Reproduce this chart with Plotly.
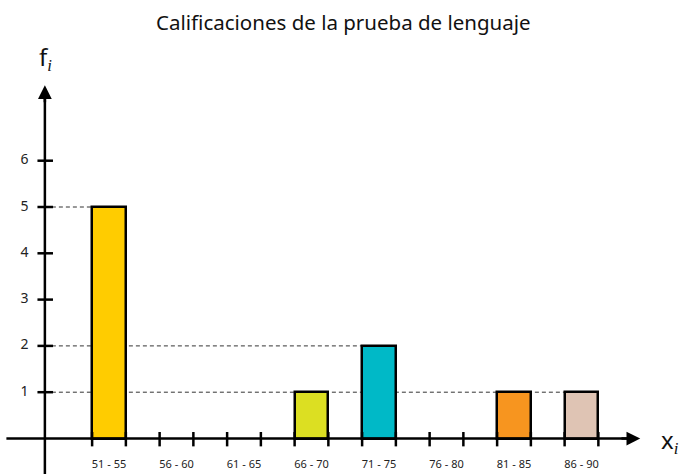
import plotly.graph_objects as go

# Frequency table
categories = ["51 - 55", "56 - 60", "61 - 65", "66 - 70", "71 - 75", "76 - 80", "81 - 85", "86 - 90"]
frequencies = [5, 0, 0, 1, 2, 0, 1, 1]
bar_colors = ["#FFCC00", "#FFFFFF", "#FFFFFF", "#DCDF22", "#00B9C7", "#FFFFFF", "#F7951F", "#DFC4B4"]
y_ticks = [1, 2, 3, 4, 5, 6]
title_text = "Calificaciones de la prueba de lenguaje"

W, H = 684, 474
BAR_W = 0.5
positions = list(range(len(categories)))

# axis placement in data units
AXIS_X = -0.95
X_RANGE = [-109 / 67.5, (W - 109) / 67.5]
Y_RANGE = [-35.5 / 46.3, 438.5 / 46.3]
X_END = 7.87
Y_END = 7.63
Y_BOTTOM = Y_RANGE[0]
X_START = -1.52

fig = go.Figure()

shapes = []
# dashed guides from the vertical axis to the farthest bar of each height
for lvl in sorted(set(v for v in frequencies if v > 0)):
    last = max(i for i, v in zip(positions, frequencies) if v == lvl)
    shapes.append(dict(type="line", xref="x", yref="y", layer="below",
                       x0=AXIS_X, x1=last - BAR_W / 2, y0=lvl, y1=lvl,
                       line=dict(color="#333333", width=1, dash="4px,3px")))

# bars (only non-empty classes)
bx = [p for p, v in zip(positions, frequencies) if v > 0]
by = [v for v in frequencies if v > 0]
bc = [c for c, v in zip(bar_colors, frequencies) if v > 0]
fig.add_trace(go.Bar(x=bx, y=by, width=BAR_W, marker=dict(color=bc, line=dict(color="#000000", width=2.5)),
                     hoverinfo="skip", showlegend=False))

# horizontal axis
shapes.append(dict(type="line", xref="x", yref="y", x0=X_START, x1=X_END - 0.05, y0=0, y1=0,
                   line=dict(color="#000000", width=2.5)))
# vertical axis
shapes.append(dict(type="line", xref="x", yref="y", x0=AXIS_X, x1=AXIS_X, y0=Y_BOTTOM, y1=Y_END - 0.1,
                   line=dict(color="#000000", width=2.5)))

# x-axis ticks at the edges of each class
for p in positions:
    for e in (p - BAR_W / 2, p + BAR_W / 2):
        shapes.append(dict(type="line", xref="x", yref="y", x0=e, x1=e, y0=-0.17, y1=0.14,
                           line=dict(color="#000000", width=2.5)))
# y-axis ticks crossing the axis
for t in y_ticks:
    shapes.append(dict(type="line", xref="x", yref="y", x0=AXIS_X - 0.11, x1=AXIS_X + 0.12, y0=t, y1=t,
                       line=dict(color="#000000", width=2.5)))

# tick labels
fig.add_trace(go.Scatter(x=positions, y=[-0.58] * len(positions), mode="text", text=categories,
                         textfont=dict(family="Noto Sans", size=11, color="#222222"),
                         hoverinfo="skip", showlegend=False))
fig.add_trace(go.Scatter(x=[AXIS_X - 0.3] * len(y_ticks), y=y_ticks, mode="text",
                         text=[str(t) for t in y_ticks],
                         textfont=dict(family="Noto Sans", size=14, color="#222222"),
                         hoverinfo="skip", showlegend=False))

annotations = [
    # arrowheads
    dict(x=X_END, y=0, ax=X_END - 0.3, ay=0, xref="x", yref="y", axref="x", ayref="y",
         showarrow=True, arrowhead=2, arrowsize=1.1, arrowwidth=2.5, arrowcolor="#000000", text=""),
    dict(x=AXIS_X, y=Y_END, ax=AXIS_X, ay=Y_END - 0.4, xref="x", yref="y", axref="x", ayref="y",
         showarrow=True, arrowhead=2, arrowsize=1.1, arrowwidth=2.5, arrowcolor="#000000", text=""),
    # axis names
    dict(x=AXIS_X - 0.12, y=Y_END + 0.6, xref="x", yref="y", showarrow=False, xanchor="left",
         text="f<sub><span style='font-family:Liberation Serif'><i>i</i></span></sub>",
         font=dict(family="Noto Sans", size=24, color="#111111")),
    dict(x=8.15, y=-0.05, xref="x", yref="y", showarrow=False, xanchor="left",
         text="x<sub><span style='font-family:Liberation Serif'><i>i</i></span></sub>",
         font=dict(family="Noto Sans", size=24, color="#111111")),
    # title
    dict(x=343 / W, y=1 - 22 / H, xref="paper", yref="paper", showarrow=False,
         xanchor="center", yanchor="middle",
         text=title_text, font=dict(family="Noto Sans", size=20.5, color="#111111")),
]

fig.update_layout(
    width=W, height=H,
    margin=dict(l=0, r=0, t=0, b=0),
    paper_bgcolor="#FFFFFF", plot_bgcolor="#FFFFFF",
    xaxis=dict(range=X_RANGE, visible=False, fixedrange=True),
    yaxis=dict(range=Y_RANGE, visible=False, fixedrange=True),
    shapes=shapes, annotations=annotations, bargap=0,
)

fig.write_html("out.html")
